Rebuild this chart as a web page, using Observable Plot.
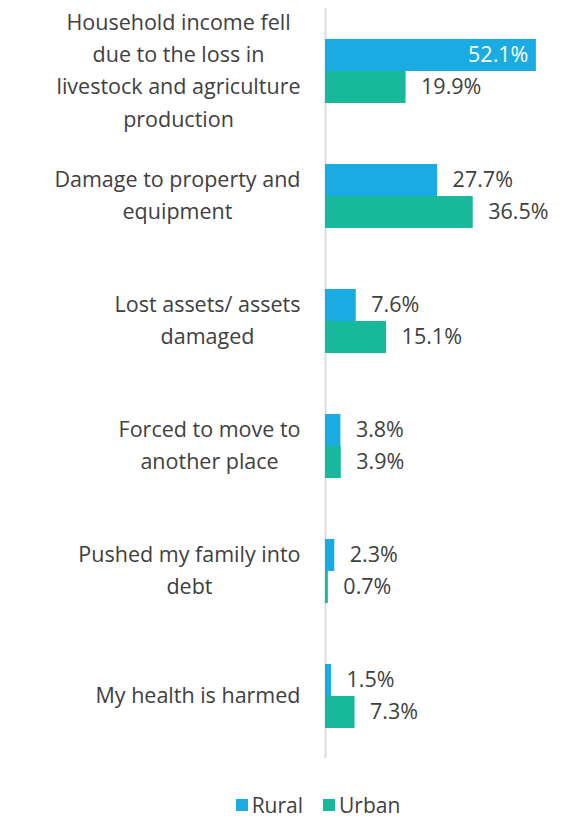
<!DOCTYPE html>
<html><head><meta charset="utf-8">
<script src="https://cdn.jsdelivr.net/npm/d3@7"></script>
<script src="https://cdn.jsdelivr.net/npm/@observablehq/plot@0.6"></script>
<style>
body{margin:0;background:#fff;font-family:"Open Sans",sans-serif;color:#404040;}
#legend{display:flex;justify-content:center;align-items:center;gap:20px;padding-left:56px;height:30px;margin-top:20px;font-size:21px;}
#legend span.item{display:flex;align-items:center;gap:4px;}
#legend span.sw{width:12px;height:12px;display:inline-block;}
</style></head><body><div id="chart"></div><script>
const categories = [
  "Household income fell\ndue to the loss in\nlivestock and agriculture\nproduction",
  "Damage to property and\nequipment",
  "Lost assets/ assets\ndamaged",
  "Forced to move to\nanother place",
  "Pushed my family into\ndebt",
  "My health is harmed"
];
const series = ["Rural", "Urban"];
const rural = [52.1, 27.7, 7.6, 3.8, 2.3, 1.5];
const urban = [19.9, 36.5, 15.1, 3.9, 0.7, 7.3];
const colors = ["#1aabe2", "#17b99a"];

const data = categories.flatMap((c, i) => [
  {category: c, series: "Rural", value: rural[i]},
  {category: c, series: "Urban", value: urban[i]}
]);

const labelFont = 21.5;
const valueFont = 21.5;
const ctx = document.createElement("canvas").getContext("2d");
ctx.font = `${labelFont}px "Open Sans"`;
const blockWidth = c => d3.max(c.split("\n"), l => ctx.measureText(l).width);

const plot = Plot.plot({
  width: 580, height: 770,
  marginLeft: 325, marginRight: 0, marginTop: 8, marginBottom: 12,
  style: {fontFamily: '"Open Sans", sans-serif', fontSize: "20px", color: "#404040", background: "#fff"},
  x: {domain: [0, 63], axis: null},
  fy: {domain: categories, padding: 0, axis: null},
  y: {domain: series, paddingInner: 0, paddingOuter: 0.915, axis: null},
  color: {domain: series, range: colors},
  marks: [
    Plot.ruleX([0], {stroke: "#d5dbe3", strokeWidth: 2}),
    Plot.barX(data, {fy: "category", y: "series", x: "value", fill: "series"}),
    Plot.text(data, {filter: d => d.value > 45, fy: "category", y: "series", x: "value",
      text: d => d.value.toFixed(1) + "%", textAnchor: "end", dx: -8, fill: "white", fontSize: valueFont}),
    Plot.text(data, {filter: d => d.value <= 45, fy: "category", y: "series", x: "value",
      text: d => d.value.toFixed(1) + "%", textAnchor: "start", dx: 15, fill: "#404040", fontSize: valueFont}),
    ...categories.map(c => Plot.text([c], {fy: d => d, text: d => d, frameAnchor: "left",
      textAnchor: "middle", dx: -(25 + blockWidth(c) / 2), dy: -3, lineHeight: 1.5,
      fontSize: labelFont, fill: "#404040"}))
  ]
});
document.getElementById("chart").appendChild(plot);

const legend = document.createElement("div");
legend.id = "legend";
series.forEach((s, i) => {
  const item = document.createElement("span");
  item.className = "item";
  const sw = document.createElement("span");
  sw.className = "sw";
  sw.style.background = colors[i];
  item.appendChild(sw);
  item.appendChild(document.createTextNode(s));
  legend.appendChild(item);
});
document.body.appendChild(legend);
</script></body></html>
